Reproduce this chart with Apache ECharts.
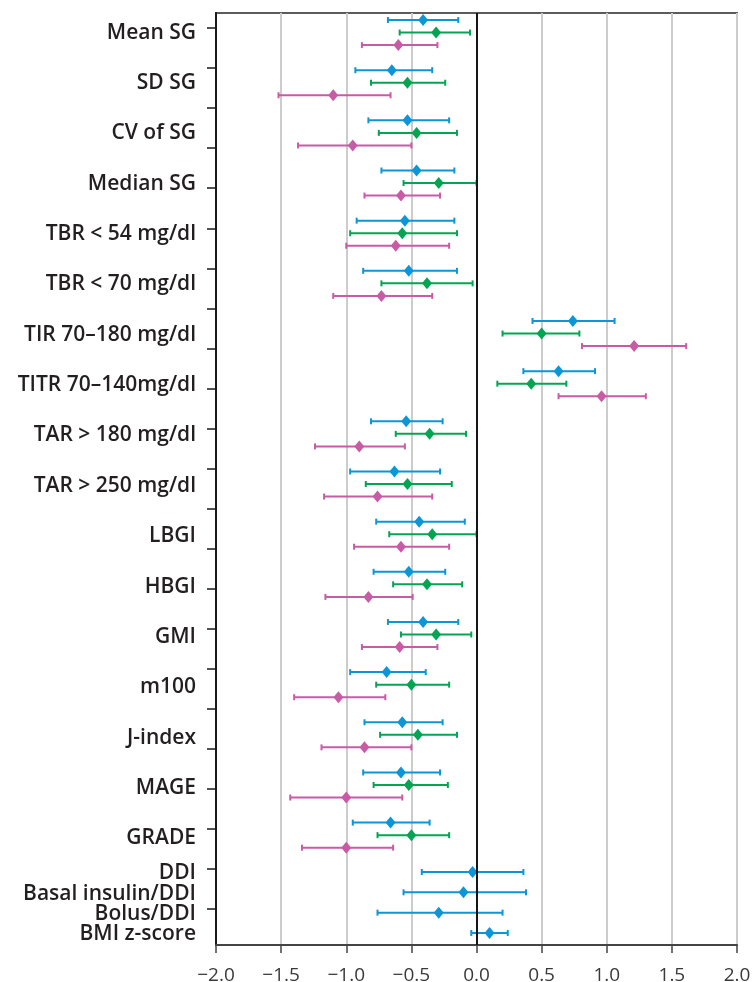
<!DOCTYPE html>
<html>
<head>
<meta charset="utf-8">
<script src="https://cdn.jsdelivr.net/npm/echarts@6/dist/echarts.min.js"></script>
<style>html,body{margin:0;padding:0;background:#fff}#c{width:752px;height:982px}</style>
</head>
<body>
<div id="c"></div>
<script>
// ---- data ----
const groupCategories = ['Mean SG','SD SG','CV of SG','Median SG','TBR < 54 mg/dl','TBR < 70 mg/dl',
  'TIR 70\u2013180 mg/dl','TITR 70\u2013140mg/dl','TAR > 180 mg/dl','TAR > 250 mg/dl','LBGI','HBGI',
  'GMI','m100','J-index','MAGE','GRADE'];
const extraCategories = ['DDI','Basal insulin/DDI','Bolus/DDI','BMI z-score'];

// blue: 17 groups + 4 extra rows
const blueEst = [-0.41,-0.65,-0.53,-0.46,-0.55,-0.52,0.74,0.63,-0.54,-0.63,-0.44,-0.52,-0.41,-0.69,-0.57,-0.58,-0.66,
                 -0.03,-0.10,-0.29,0.10];
const blueLo  = [-0.68,-0.93,-0.83,-0.73,-0.92,-0.87,0.43,0.36,-0.81,-0.97,-0.77,-0.79,-0.68,-0.97,-0.86,-0.87,-0.95,
                 -0.42,-0.56,-0.76,-0.04];
const blueHi  = [-0.14,-0.34,-0.21,-0.17,-0.17,-0.15,1.06,0.91,-0.26,-0.28,-0.09,-0.24,-0.14,-0.39,-0.26,-0.28,-0.36,
                 0.36,0.38,0.20,0.24];
const greenEst = [-0.31,-0.53,-0.46,-0.29,-0.57,-0.38,0.50,0.42,-0.36,-0.53,-0.34,-0.38,-0.31,-0.50,-0.45,-0.52,-0.50];
const greenLo  = [-0.59,-0.81,-0.75,-0.56,-0.97,-0.73,0.20,0.16,-0.62,-0.85,-0.67,-0.64,-0.58,-0.77,-0.74,-0.79,-0.76];
const greenHi  = [-0.05,-0.24,-0.15,0.00,-0.15,-0.03,0.79,0.69,-0.08,-0.19,0.00,-0.11,-0.04,-0.21,-0.15,-0.22,-0.21];
const pinkEst = [-0.60,-1.10,-0.95,-0.58,-0.62,-0.73,1.21,0.96,-0.90,-0.76,-0.58,-0.83,-0.59,-1.06,-0.86,-1.00,-1.00];
const pinkLo  = [-0.88,-1.52,-1.37,-0.86,-1.00,-1.10,0.81,0.63,-1.24,-1.17,-0.94,-1.16,-0.88,-1.40,-1.19,-1.43,-1.34];
const pinkHi  = [-0.30,-0.66,-0.50,-0.28,-0.21,-0.34,1.61,1.30,-0.55,-0.34,-0.21,-0.49,-0.30,-0.70,-0.50,-0.57,-0.64];

// ---- layout (row units) ----
const Y_MIN = -0.56, Y_MAX = 73.76;
function groupRow(g, s) { return 4 * g + s; }
function extraRow(i) { return 67.94 + 1.62 * i; }
const tickRows = [];
for (let k = 0; k <= 22; k++) tickRows.push(0.636 + 3.194 * k);
tickRows.push(Y_MAX);

const labelRows = [], labelNames = [];
groupCategories.forEach((c, g) => { labelRows.push(4 * g + 1.0 + 0.016 * g); labelNames.push(c); });
extraCategories.forEach((c, i) => { labelRows.push(extraRow(i) + 0.1); labelNames.push(c); });
// blank end label so the end-label overlap check never hides a real label
const labelValues = labelRows.concat([Y_MAX]);

const BLUE = '#0c96d8', GREEN = '#04a552', PINK = '#c85ba6';

function buildSeries(name, color, est, lo, hi, s) {
  const rows = est.map((_, i) => i < groupCategories.length ? groupRow(i, s) : extraRow(i - groupCategories.length));
  const errData = est.map((_, i) => [lo[i], hi[i], rows[i]]);
  const ptData = est.map((v, i) => [v, rows[i]]);
  return [{
    type: 'custom', name: name, data: errData, z: 3,
    encode: { x: [0, 1], y: 2 },
    renderItem: function (params, api) {
      const y = api.value(2);
      const a = api.coord([api.value(0), y]);
      const b = api.coord([api.value(1), y]);
      const h = 3;
      const st = { stroke: color, lineWidth: 2 };
      return { type: 'group', children: [
        { type: 'line', shape: { x1: a[0], y1: a[1], x2: b[0], y2: b[1] }, style: st },
        { type: 'line', shape: { x1: a[0], y1: a[1] - h, x2: a[0], y2: a[1] + h }, style: st },
        { type: 'line', shape: { x1: b[0], y1: b[1] - h, x2: b[0], y2: b[1] + h }, style: st }
      ]};
    }
  }, {
    type: 'scatter', name: name, data: ptData, z: 4,
    symbol: 'diamond', symbolSize: [10, 12],
    itemStyle: { color: color, opacity: 1 }
  }];
}

const series = [].concat(
  buildSeries('Blue', BLUE, blueEst, blueLo, blueHi, 0),
  buildSeries('Green', GREEN, greenEst, greenLo, greenHi, 1),
  buildSeries('Pink', PINK, pinkEst, pinkLo, pinkHi, 2)
);
series[1].markLine = {
  silent: true, symbol: ['none', 'none'], label: { show: false },
  lineStyle: { color: '#151515', width: 2, type: 'solid' },
  data: [{ xAxis: 0 }]
};

const chart = echarts.init(document.getElementById('c'));
chart.setOption({
  animation: false,
  backgroundColor: '#fff',
  grid: { left: 216, right: 15, top: 13, bottom: 37, show: true, borderColor: '#5c5c5c', borderWidth: 2,
          containLabel: false, outerBoundsMode: 'none' },
  xAxis: {
    type: 'value', min: -2, max: 2, interval: 0.5,
    axisLine: { show: true, onZero: false, lineStyle: { color: '#444', width: 2 } },
    axisTick: { show: true, length: 8, lineStyle: { color: '#444', width: 1.5 } },
    axisLabel: {
      fontFamily: 'Open Sans', fontSize: 19, color: '#3a3a3a', margin: 21, hideOverlap: false,
      showMinLabel: true, showMaxLabel: true,
      formatter: v => (v < 0 ? '\u2212' : '') + Math.abs(v).toFixed(1)
    },
    splitLine: { show: true, lineStyle: { color: '#cccccc', width: 2 } }
  },
  yAxis: {
    type: 'value', inverse: true, min: Y_MIN, max: Y_MAX,
    axisLine: { show: true, onZero: false, lineStyle: { color: '#1a1a1a', width: 2 } },
    axisTick: { show: true, length: 9, customValues: tickRows, lineStyle: { color: '#1a1a1a', width: 1.5 } },
    axisLabel: {
      fontFamily: 'Open Sans', fontWeight: 600, fontSize: 21, lineHeight: 18, color: '#231f20', margin: 20,
      hideOverlap: false, showMinLabel: true, showMaxLabel: false,
      customValues: labelValues,
      formatter: function (v) {
        for (let i = 0; i < labelRows.length; i++) {
          if (Math.abs(labelRows[i] - v) < 1e-6) return labelNames[i];
        }
        return '';
      }
    },
    splitLine: { show: false }
  },
  series: series
});
</script>
</body>
</html>
